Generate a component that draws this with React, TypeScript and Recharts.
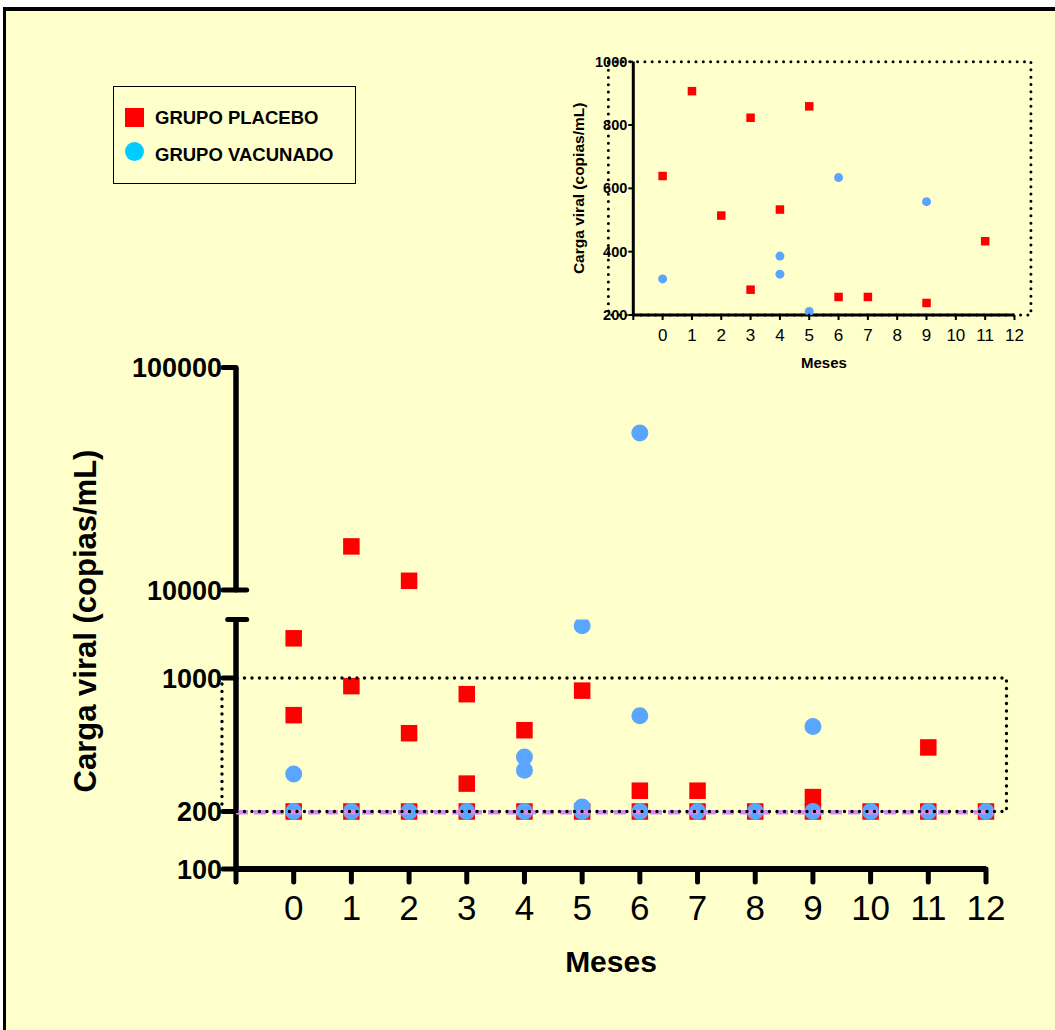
import React from "react";
import { ScatterChart, Scatter, XAxis, YAxis, ReferenceLine, ReferenceArea, Legend } from "recharts";

const meses = [0, 1, 2, 3, 4, 5, 6, 7, 8, 9, 10, 11, 12];
const ticksX = [-1, ...meses];

// cargas virales por mes (copias/mL)
const placebo = [
  [1614, 639, 200],
  [15700, 907, 200],
  [11000, 514, 200],
  [823, 280, 200],
  [533, 200],
  [859, 200],
  [257, 200],
  [257, 200],
  [200],
  [238, 200],
  [200],
  [433, 200],
  [200],
];
const vacunado = [
  [314, 200],
  [200],
  [200],
  [200],
  [386, 329, 200],
  [1880, 211, 200],
  [50800, 634, 200],
  [200],
  [200],
  [558, 200],
  [200],
  [200],
  [200],
];

const ticksAlto = [10000, 100000];
const ticksBajo = [100, 200, 1000];
const ticksInset = [200, 400, 600, 800, 1000];

const ROJO = "#FF0000";
const AZUL = "#5AA5FF";
const AZUL_LEYENDA = "#00CCFF";
const FONDO = "#FFFFCC";
const VIOLETA = "#D48BEE";
const FONT = "'Liberation Sans', Arial, Helvetica, sans-serif";

type P = { mes: number; carga: number };
const toPoints = (g: number[][]): P[] => meses.flatMap((m, i) => g[i].map((v) => ({ mes: m, carga: v })));
const ptsPlacebo = toPoints(placebo);
const ptsVacunado = toPoints(vacunado);

const square = (s: number, c: string) => (p: any) => (
  <rect x={p.cx - s / 2} y={p.cy - s / 2} width={s} height={s} fill={c} />
);
const circle = (d: number, c: string) => (p: any) => <circle cx={p.cx} cy={p.cy} r={d / 2} fill={c} />;

const dotted = { stroke: "#000", strokeWidth: 3.4, strokeDasharray: "0 7.5", strokeLinecap: "round" as const };
const fmtX = (v: number) => (v < 0 ? "" : String(v));

function Leyenda({ payload }: any) {
  const colors = [ROJO, AZUL_LEYENDA];
  return (
    <div
      style={{
        position: "relative",
        width: 243,
        height: 98,
        boxSizing: "border-box",
        border: "1.7px solid #000",
        fontFamily: FONT,
        fontWeight: 700,
        fontSize: 18.5,
        color: "#000",
      }}
    >
      {(payload || []).map((e: any, i: number) => (
        <React.Fragment key={i}>
          {i === 0 ? (
            <div style={{ position: "absolute", left: 11, top: 21, width: 19, height: 19, background: colors[i] }} />
          ) : (
            <div
              style={{ position: "absolute", left: 11, top: 55, width: 19, height: 19, borderRadius: "50%", background: colors[i] }}
            />
          )}
          <div style={{ position: "absolute", left: 41, top: i === 0 ? 22 : 59, lineHeight: "18.5px", whiteSpace: "nowrap" }}>
            {e.value}
          </div>
        </React.Fragment>
      ))}
    </div>
  );
}

export default function App() {
  const alto = (p: P) => p.carga >= 10000;
  const bajo = (p: P) => p.carga <= 2025;
  const inset = (p: P) => p.carga > 200 && p.carga <= 1000;

  return (
    <div style={{ position: "absolute", left: 0, top: 0, width: 1055, height: 1030, overflow: "hidden", fontFamily: FONT }}>
      <div
        style={{
          position: "absolute",
          left: 3,
          top: 7,
          width: 1052,
          height: 1023,
          boxSizing: "border-box",
          background: FONDO,
          borderTop: "4px solid #000",
          borderLeft: "3.5px solid #000",
        }}
      />

      {/* eje roto: tramo superior */}
      <div style={{ position: "absolute", left: 0, top: 0 }}>
        <ScatterChart width={1055} height={620} margin={{ top: 367.5, right: 69, bottom: 30, left: 0 }}>
          <XAxis type="number" dataKey="mes" domain={[-1, 12]} hide />
          <YAxis
            type="number"
            dataKey="carga"
            scale="log"
            domain={[10000, 100000]}
            ticks={ticksAlto}
            interval={0}
            allowDataOverflow
            width={236}
            tickSize={13}
            tickMargin={1}
            axisLine={{ stroke: "#000", strokeWidth: 5.5 }}
            tickLine={{ stroke: "#000", strokeWidth: 5, strokeLinecap: "round" }}
            tick={{ fontSize: 27, fontWeight: 700, fill: "#000" }}
          />
          <Scatter name="GRUPO PLACEBO" data={ptsPlacebo.filter(alto)} fill={ROJO} shape={square(16.5, ROJO)} isAnimationActive={false} />
          <Scatter name="GRUPO VACUNADO" data={ptsVacunado.filter(alto)} fill={AZUL} shape={circle(17, AZUL)} isAnimationActive={false} />
          <ReferenceLine
            segment={[{ x: -1, y: 10000 }, { x: -0.815, y: 10000 }]}
            stroke="#000"
            strokeWidth={5}
            strokeLinecap="round"
            ifOverflow="visible"
          />
          <Legend
            layout="vertical"
            align="center"
            verticalAlign="middle"
            wrapperStyle={{ left: 113, top: 86, width: 243, height: 98 }}
            content={<Leyenda />}
          />
        </ScatterChart>
      </div>

      {/* eje roto: tramo inferior */}
      <div style={{ position: "absolute", left: 0, top: 0 }}>
        <ScatterChart width={1055} height={1030} margin={{ top: 619.5, right: 69, bottom: 0, left: 0 }}>
          <XAxis
            type="number"
            dataKey="mes"
            domain={[-1, 12]}
            ticks={ticksX}
            interval={0}
            tickFormatter={fmtX}
            height={161}
            tickSize={13}
            tickMargin={13}
            axisLine={{ stroke: "#000", strokeWidth: 6 }}
            tickLine={{ stroke: "#000", strokeWidth: 5, strokeLinecap: "round" }}
            tick={{ fontSize: 35, fill: "#000" }}
            label={{ value: "Meses", position: "insideTop", offset: 82, fontSize: 30, fontWeight: 700, fill: "#000" }}
          />
          <YAxis
            type="number"
            dataKey="carga"
            scale="log"
            domain={[100, 2025]}
            ticks={ticksBajo}
            interval={0}
            allowDataOverflow
            width={236}
            tickSize={13}
            tickMargin={1}
            axisLine={{ stroke: "#000", strokeWidth: 5.5 }}
            tickLine={{ stroke: "#000", strokeWidth: 5, strokeLinecap: "round" }}
            tick={{ fontSize: 27, fontWeight: 700, fill: "#000" }}
          />
          <Scatter name="GRUPO PLACEBO" data={ptsPlacebo.filter(bajo)} fill={ROJO} shape={square(16.5, ROJO)} isAnimationActive={false} />
          <Scatter name="GRUPO VACUNADO" data={ptsVacunado.filter(bajo)} fill={AZUL} shape={circle(17, AZUL)} isAnimationActive={false} />
          <ReferenceLine
            segment={[{ x: -1, y: 198 }, { x: 12.12, y: 198 }]}
            stroke={VIOLETA}
            strokeWidth={4.5}
            strokeDasharray="12 6"
            ifOverflow="visible"
            zIndex={700}
          />
          <ReferenceArea x1={-1.243} x2={12.355} y1={200} y2={1000} fill="none" {...dotted} ifOverflow="visible" zIndex={800} />
          <ReferenceLine
            segment={[{ x: -1.144, y: 2025 }, { x: -0.815, y: 2025 }]}
            stroke="#000"
            strokeWidth={5}
            strokeLinecap="round"
            ifOverflow="visible"
          />
        </ScatterChart>
      </div>

      <div
        style={{
          position: "absolute",
          left: 86,
          top: 621,
          transform: "translate(-50%, -50%) rotate(-90deg)",
          fontSize: 31,
          fontWeight: 700,
          whiteSpace: "nowrap",
          color: "#000",
        }}
      >
        Carga viral (copias/mL)
      </div>

      {/* ampliación 200-1000 */}
      <div style={{ position: "absolute", left: 0, top: 0 }}>
        <ScatterChart width={1055} height={400} margin={{ top: 61.7, right: 40.5, bottom: 0, left: 553.3 }}>
          <XAxis
            type="number"
            dataKey="mes"
            domain={[-1, 12]}
            ticks={ticksX}
            interval={0}
            tickFormatter={fmtX}
            height={85}
            tickSize={5}
            tickMargin={9}
            axisLine={{ stroke: "#000", strokeWidth: 3 }}
            tickLine={{ stroke: "#000", strokeWidth: 2 }}
            tick={{ fontSize: 17, fill: "#000" }}
            label={{ value: "Meses", position: "insideTop", offset: 42.3, fontSize: 15, fontWeight: 700, fill: "#000" }}
          />
          <YAxis
            type="number"
            dataKey="carga"
            domain={[200, 1000]}
            ticks={ticksInset}
            interval={0}
            allowDataOverflow
            width={80}
            tickSize={5}
            tickMargin={1}
            axisLine={{ stroke: "#000", strokeWidth: 3 }}
            tickLine={{ stroke: "#000", strokeWidth: 2 }}
            tick={{ fontSize: 14.5, fontWeight: 700, fill: "#000" }}
            label={{
              value: "Carga viral (copias/mL)",
              angle: -90,
              position: "insideLeft",
              offset: 25,
              fontSize: 15.5,
              fontWeight: 700,
              fill: "#000",
              style: { textAnchor: "middle" },
            }}
          />
          <Scatter name="GRUPO PLACEBO" data={ptsPlacebo.filter(inset)} fill={ROJO} shape={square(8.5, ROJO)} isAnimationActive={false} />
          <Scatter name="GRUPO VACUNADO" data={ptsVacunado.filter(inset)} fill={AZUL} shape={circle(9, AZUL)} isAnimationActive={false} />
          <ReferenceArea x1={-1.85} x2={12.56} y1={200} y2={1000} fill="none" {...dotted} strokeWidth={3} strokeDasharray="0 7.3" ifOverflow="visible" zIndex={800} />
        </ScatterChart>
      </div>
    </div>
  );
}
